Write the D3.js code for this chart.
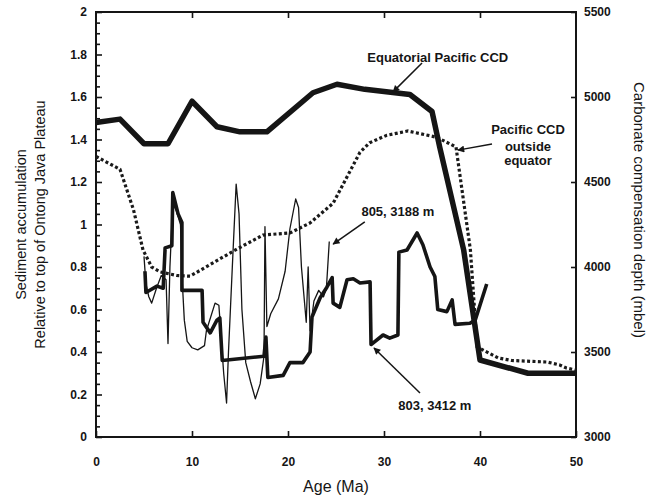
<!DOCTYPE html>
<html>
<head>
<meta charset="utf-8">
<script type="text/javascript" src="https://d3js.org/d3.v7.min.js"></script>
<title>CCD and sediment accumulation</title>
<style>
body { margin:0; background:#fff; }
text { font-family: "Liberation Sans", Arial, sans-serif; fill:#151515; }
</style>
</head>
<body>
<svg id="canvas" width="654" height="501"></svg>
<script type="text/javascript">
// Equatorial Pacific CCD (mbel, right axis)
var agesEqCCD = [0, 2.5, 5, 7.5, 10, 12.6, 15, 17.8, 22.6, 25.1, 28, 32.7, 35, 35.8, 38.3, 40, 45, 50];
var depthEqCCD = [4850, 4870, 4725, 4725, 4975, 4825, 4795, 4795, 5025, 5075, 5045, 5015, 4915, 4706, 4100, 3453, 3375, 3375];

// Pacific CCD outside equator (mbel, right axis)
var agesOutCCD = [0, 2.5, 3.9, 4.9, 5.8, 6.7, 8.4, 9.8, 12.6, 14.7, 17.4, 20.2, 22.3, 24.7, 26.1, 27.5, 28.5, 30.3, 32.5, 35.5, 37.5, 39.0, 39.7, 41.9, 43.3, 47.0, 48.3, 49.0, 50];
var depthOutCCD = [4650, 4575, 4338, 4100, 4000, 3971, 3950, 3946, 4038, 4106, 4188, 4200, 4259, 4375, 4525, 4675, 4731, 4775, 4800, 4763, 4706, 4100, 3530, 3465, 3450, 3441, 3424, 3406, 3394];

// Site 803, 3412 m (left axis)
var ages803 = [5.1, 5.2, 6.35, 7.0, 7.2, 7.9, 8.0, 8.55, 8.95, 8.95, 11.05, 11.15, 11.9, 12.6, 12.9, 13.15, 17.5, 17.7, 17.9, 19.5, 20.2, 21.55, 22.3, 22.5, 23.35, 24.05, 24.6, 24.7, 25.4, 26.15, 26.8, 27.5, 28.55, 28.65, 29.9, 30.6, 31.45, 31.55, 32.4, 33.45, 34.05, 34.8, 35.3, 35.6, 36.55, 37.1, 37.4, 38.95, 39.5, 40.7];
var acc803 = [0.78, 0.68, 0.71, 0.70, 0.89, 0.90, 1.15, 1.05, 1.01, 0.69, 0.69, 0.54, 0.49, 0.55, 0.56, 0.36, 0.38, 0.47, 0.28, 0.29, 0.35, 0.35, 0.40, 0.565, 0.655, 0.705, 0.75, 0.63, 0.61, 0.74, 0.745, 0.725, 0.73, 0.435, 0.48, 0.465, 0.48, 0.87, 0.88, 0.96, 0.905, 0.80, 0.755, 0.60, 0.59, 0.645, 0.53, 0.535, 0.55, 0.72];

// Site 805, 3188 m (left axis)
var ages805 = [5.0, 5.2, 5.5, 5.8, 6.3, 6.8, 7.3, 7.5, 7.7, 8.0, 8.4, 8.8, 9.0, 9.2, 9.5, 10.0, 10.6, 11.3, 11.5, 12.4, 12.8, 13.3, 13.6, 13.8, 14.2, 14.6, 14.9, 15.2, 15.6, 16.1, 16.6, 17.1, 17.5, 17.6, 17.8, 18.2, 19.0, 19.7, 20.2, 20.8, 21.1, 21.4, 21.9, 22.1, 22.3, 22.7, 23.2, 23.7, 24.0, 24.3];
var acc805 = [0.85, 0.72, 0.66, 0.63, 0.70, 0.76, 0.74, 0.44, 0.80, 1.10, 1.06, 1.00, 0.72, 0.55, 0.45, 0.42, 0.41, 0.43, 0.50, 0.63, 0.62, 0.30, 0.16, 0.40, 0.80, 1.19, 1.05, 0.60, 0.35, 0.26, 0.18, 0.25, 0.38, 0.99, 0.52, 0.58, 0.65, 0.78, 0.98, 1.12, 1.08, 0.80, 0.54, 0.80, 0.50, 0.64, 0.69, 0.66, 0.70, 0.92];

var leftTicks = [0, 0.2, 0.4, 0.6, 0.8, 1, 1.2, 1.4, 1.6, 1.8, 2];
var rightTicks = [3000, 3500, 4000, 4500, 5000, 5500];
var ageTicks = [0, 10, 20, 30, 40, 50];

var plotLeft = 96, plotTop = 12, plotRight = 576, plotBottom = 437;

var svg = d3.select("#canvas");

var xScale = d3.scaleLinear().domain([0, 50]).range([plotLeft, plotRight]);
var yLeft = d3.scaleLinear().domain([0, 2]).range([plotBottom, plotTop]);
var yRight = d3.scaleLinear().domain([3000, 5500]).range([plotBottom, plotTop]);

// arrow head
svg.append("defs").append("marker")
   .attr("id", "head")
   .attr("viewBox", "0 0 10 10")
   .attr("refX", 9).attr("refY", 5)
   .attr("markerWidth", 9).attr("markerHeight", 7)
   .attr("markerUnits", "userSpaceOnUse")
   .attr("orient", "auto")
   .append("path").attr("d", "M0,0 L10,5 L0,10 z").style("fill", "#151515");

// frame
svg.append("rect")
   .attr("x", plotLeft).attr("y", plotTop)
   .attr("width", plotRight - plotLeft).attr("height", plotBottom - plotTop)
   .style("fill", "none").style("stroke", "#151515").style("stroke-width", 2);

// left axis, major + minor ticks pointing inward
var minor = d3.range(0, 2.001, 0.05).filter(function(d) { return Math.abs(d * 5 - Math.round(d * 5)) > 0.01; });
var leftAxis = d3.axisLeft(yLeft).tickValues(leftTicks).tickSizeInner(-6).tickSizeOuter(0).tickPadding(9).tickFormat(d3.format("~g"));
svg.append("g").attr("transform", "translate(" + plotLeft + ",0)").call(leftAxis);
svg.append("g").attr("transform", "translate(" + plotLeft + ",0)")
   .call(d3.axisLeft(yLeft).tickValues(minor).tickSizeInner(-4).tickSizeOuter(0).tickFormat(""));

var rightAxis = d3.axisRight(yRight).tickValues(rightTicks).tickSizeInner(-5).tickSizeOuter(0).tickPadding(8).tickFormat(d3.format("d"));
svg.append("g").attr("transform", "translate(" + plotRight + ",0)").call(rightAxis);

var bottomAxis = d3.axisBottom(xScale).tickValues(ageTicks).tickSizeInner(-6).tickSizeOuter(0).tickPadding(20);
svg.append("g").attr("transform", "translate(0," + plotBottom + ")").call(bottomAxis);

svg.append("g").attr("transform", "translate(0," + plotTop + ")")
   .call(d3.axisTop(xScale).tickValues([10, 20, 30, 40]).tickSizeInner(-6).tickSizeOuter(0).tickFormat(""));

svg.selectAll(".domain").remove();
svg.selectAll(".tick line").style("stroke", "#151515").style("stroke-width", 1.6);
svg.selectAll(".tick text")
   .style("font-family", "'Liberation Sans', Arial, sans-serif")
   .style("font-size", "12px").style("font-weight", "bold").style("fill", "#151515");

// lines
function pts(a, b) { return a.map(function(d, i) { return [d, b[i]]; }); }

var lineL = d3.line().x(function(d) { return xScale(d[0]); }).y(function(d) { return yLeft(d[1]); });
var lineR = d3.line().x(function(d) { return xScale(d[0]); }).y(function(d) { return yRight(d[1]); });

svg.append("path").datum(pts(agesOutCCD, depthOutCCD)).attr("d", lineR)
   .style("fill", "none").style("stroke", "#1a1a1a").style("stroke-width", 3.2)
   .style("stroke-dasharray", "3,2.4");

svg.append("path").datum(pts(ages805, acc805)).attr("d", lineL)
   .style("fill", "none").style("stroke", "#151515").style("stroke-width", 1.3)
   .style("stroke-linejoin", "round");

svg.append("path").datum(pts(ages803, acc803)).attr("d", lineL)
   .style("fill", "none").style("stroke", "#151515").style("stroke-width", 3.6)
   .style("stroke-linejoin", "round");

svg.append("path").datum(pts(agesEqCCD, depthEqCCD)).attr("d", lineR)
   .style("fill", "none").style("stroke", "#151515").style("stroke-width", 5.5)
   .style("stroke-linejoin", "round");

// annotations
function arrow(a0, v0, a1, v1) {
    svg.append("line")
       .attr("x1", xScale(a0)).attr("y1", yLeft(v0))
       .attr("x2", xScale(a1)).attr("y2", yLeft(v1))
       .style("stroke", "#151515").style("stroke-width", 1.5)
       .attr("marker-end", "url(#head)");
}
function label(txt, a, v, anchor) {
    svg.append("text").attr("x", xScale(a)).attr("y", yLeft(v))
       .attr("text-anchor", anchor || "middle")
       .style("font-size", "13px").style("font-weight", "bold")
       .text(txt);
}

label("Equatorial Pacific CCD", 35.6, 1.765);
arrow(33.96, 1.76, 30.94, 1.624);

label("Pacific CCD", 45.0, 1.426);
label("outside", 45.0, 1.346);
label("equator", 45.0, 1.28);
arrow(41.25, 1.379, 37.7, 1.35);

label("805, 3188 m", 31.45, 1.04);
arrow(28.0, 1.012, 24.7, 0.908);

label("803, 3412 m", 35.3, 0.127);
arrow(33.75, 0.207, 28.96, 0.419);

// axis titles
svg.append("text")
   .attr("transform", "translate(26," + ((plotTop + plotBottom) / 2) + ") rotate(-90)")
   .attr("text-anchor", "middle").style("font-size", "14.5px")
   .text("Sediment accumulation");
svg.append("text")
   .attr("transform", "translate(45," + ((plotTop + plotBottom) / 2) + ") rotate(-90)")
   .attr("text-anchor", "middle").style("font-size", "14.5px")
   .text("Relative to top of Ontong Java Plateau");
svg.append("text")
   .attr("transform", "translate(634,210) rotate(90)")
   .attr("text-anchor", "middle").style("font-size", "15px")
   .text("Carbonate compensation depth (mbel)");
svg.append("text")
   .attr("x", (plotLeft + plotRight) / 2).attr("y", 492)
   .attr("text-anchor", "middle").style("font-size", "16px")
   .text("Age (Ma)");
</script>
</body>
</html>
